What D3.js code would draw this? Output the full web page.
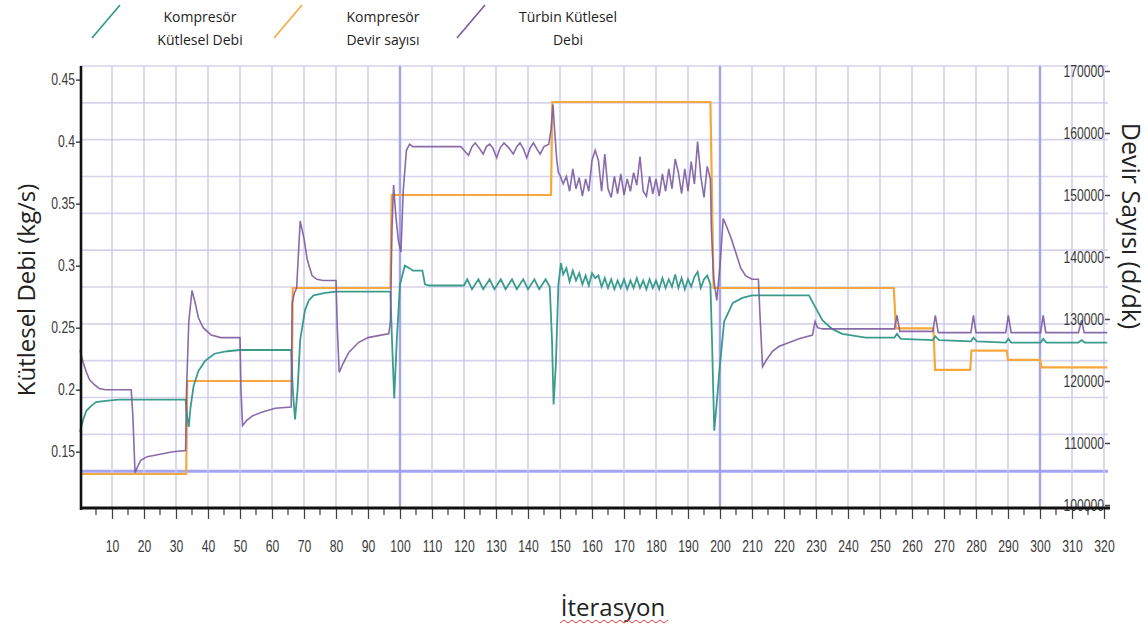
<!DOCTYPE html>
<html>
<head>
<meta charset="utf-8">
<script src="https://cdn.jsdelivr.net/npm/d3@7"></script>
<style>
body { margin: 0; background: #fff; }
.tick text { font-family: "Liberation Sans", Arial, sans-serif; font-size: 16px; fill: #3a3a3a; }
</style>
</head>
<body>
<div id="plot"></div>
<script>
// series: [iteration, value]
const compMassFlow = [
  [0,0.166],[1,0.176],[2,0.183],[3.5,0.187],[5,0.19],[8,0.191],[12,0.192],[33,0.192],[33.5,0.178],[34,0.17],
  [34.5,0.185],[35.5,0.203],[37,0.215],[39,0.223],[42,0.229],[46,0.231],[50,0.232],[66,0.232],[66.5,0.2],[67.2,0.176],
  [68,0.2],[68.8,0.24],[70.3,0.264],[71.5,0.272],[73,0.276],[76.6,0.278],[80,0.279],[97,0.279],[97.5,0.24],[98.2,0.193],
  [99,0.24],[100,0.285],[101.5,0.3],[103,0.298],[104,0.296],[107,0.296],[107.8,0.285],[109,0.284],[120,0.284],
  [121,0.289],[122.5,0.281],[124.5,0.289],[126,0.281],[128,0.289],[129.5,0.281],[131.5,0.289],[133,0.281],[135,0.289],
  [136.5,0.281],[138.5,0.289],[140,0.281],[142,0.289],[143.5,0.281],[145.5,0.289],[146.8,0.283],[147.5,0.24],[148,0.188],
  [148.7,0.22],[149.5,0.285],[150.3,0.302],[151,0.293],[152,0.298],[153,0.287],[154,0.296],[155,0.288],[156,0.294],
  [157,0.285],[158,0.292],[159,0.284],[160,0.294],[161,0.29],[162,0.292],[163,0.283],[164,0.29],[165,0.282],[166,0.289],
  [167,0.281],[168,0.288],[169,0.282],[170,0.289],[171,0.281],[172,0.288],[173,0.282],[174,0.29],[175,0.282],[176,0.288],
  [177,0.281],[178,0.289],[179,0.282],[180,0.288],[181,0.281],[182,0.29],[183,0.282],[184,0.289],[185,0.283],[186,0.293],
  [187,0.282],[188,0.29],[189,0.281],[190,0.289],[191,0.283],[192,0.291],[193,0.295],[194,0.282],[195,0.289],[196,0.292],
  [197,0.285],[197.5,0.24],[198.2,0.167],[199,0.19],[199.8,0.215],[201.3,0.255],[204,0.27],[207,0.274],[210,0.276],
  [227.8,0.276],[229.9,0.266],[232,0.256],[235,0.249],[238.2,0.245],[245.5,0.242],[254.5,0.242],[255.3,0.245],[256.5,0.241],
  [266.5,0.24],[267.3,0.243],[268.5,0.24],[278.4,0.239],[279.2,0.242],[280.3,0.239],[289.3,0.238],[290.1,0.241],[291,0.238],
  [300.2,0.238],[301,0.241],[302,0.238],[312,0.238],[313,0.24],[314,0.238],[321,0.238]
];

const compSpeed = [
  [0,105000],[33.2,105000],[33.5,120000],[66.2,120000],[66.5,135000],[97,135000],[97.4,150000],[147.2,150000],
  [147.6,165000],[197,165000],[198,135000],[254.3,135000],[255,128500],[266.7,128500],[267.2,121800],[278.2,121800],
  [278.6,124900],[289.6,124900],[290,123400],[300,123400],[300.5,122200],[321,122200]
];

const turbMassFlow = [
  [0,0.232],[1,0.222],[2,0.214],[3,0.208],[4.5,0.204],[6,0.201],[8,0.2],[16,0.2],[16.5,0.18],[17.2,0.133],[18,0.138],
  [19,0.143],[21,0.146],[25,0.148],[29,0.15],[33,0.151],[33.3,0.2],[34,0.255],[35,0.28],[36,0.27],[37,0.258],[38.5,0.25],
  [41,0.244],[44,0.242],[50,0.242],[50.3,0.2],[50.8,0.171],[52,0.175],[54,0.179],[57,0.182],[61,0.185],[66,0.186],
  [66.3,0.27],[67,0.278],[67.7,0.282],[68.8,0.336],[70,0.322],[71,0.305],[72.5,0.292],[74,0.289],[76,0.288],[80,0.288],
  [80.4,0.25],[81,0.214],[82,0.22],[84,0.23],[87,0.238],[90,0.242],[94,0.244],[96.5,0.245],[97,0.255],[97.5,0.33],
  [98,0.365],[98.7,0.34],[99.5,0.32],[100.3,0.311],[101,0.36],[102,0.393],[103,0.398],[104,0.396],[119,0.396],[120,0.393],
  [121.4,0.389],[122.5,0.396],[123.5,0.399],[124.7,0.395],[126,0.39],[127,0.396],[128,0.398],[129,0.395],[130.2,0.387],
  [131.3,0.395],[132.5,0.399],[134,0.395],[135.4,0.39],[136.5,0.396],[137.5,0.399],[138.6,0.394],[139.6,0.387],[140.7,0.395],
  [141.7,0.399],[142.8,0.394],[143.8,0.39],[145,0.396],[146.5,0.398],[147.2,0.41],[147.8,0.43],[148.3,0.41],[149,0.385],
  [149.5,0.375],[150,0.373],[151,0.366],[152,0.372],[153,0.36],[154,0.378],[155,0.362],[156,0.371],[157,0.356],[158,0.37],
  [159,0.36],[160,0.385],[161,0.393],[162,0.385],[163,0.36],[164,0.39],[165,0.362],[166,0.355],[167,0.372],[168,0.358],
  [169,0.374],[170,0.357],[171,0.37],[172,0.36],[173,0.375],[174,0.365],[175,0.388],[176,0.36],[177,0.356],[178,0.372],
  [179,0.358],[180,0.37],[181,0.356],[182,0.374],[183,0.36],[184,0.378],[185,0.362],[186,0.386],[187,0.375],[188,0.358],
  [189,0.378],[190,0.36],[191,0.384],[192,0.366],[193,0.4],[194,0.372],[195,0.355],[196,0.38],[197,0.37],[197.3,0.33],
  [198,0.29],[199,0.272],[200,0.3],[201,0.338],[202,0.332],[203.5,0.322],[205,0.31],[206.5,0.298],[208,0.292],[210,0.289],
  [212,0.289],[212.5,0.26],[213.3,0.2185],[214.5,0.224],[216.4,0.231],[218.5,0.235],[220.6,0.237],[224.7,0.241],
  [228.9,0.244],[229.7,0.255],[230.5,0.25],[232,0.249],[254.5,0.249],[255.3,0.26],[256.2,0.247],[266.5,0.247],
  [267.3,0.26],[268.2,0.246],[278.4,0.246],[279.2,0.26],[280,0.246],[289.3,0.246],[290.1,0.26],[291,0.246],[300.2,0.246],
  [301,0.26],[301.8,0.246],[312,0.246],[313,0.256],[313.8,0.246],[321,0.246]
];

const xTicks = d3.range(10, 321, 10);
const xMinorTicks = d3.range(5, 321, 10);
const leftTicks = [0.15, 0.2, 0.25, 0.3, 0.35, 0.4, 0.45];
const rightTicks = [100000, 110000, 120000, 130000, 140000, 150000, 160000, 170000];

const legendItems = [
  {lines: ["Kompresör", "Kütlesel Debi"], color: "#2f9787"},
  {lines: ["Kompresör", "Devir sayısı"], color: "#f6a83c"},
  {lines: ["Türbin Kütlesel", "Debi"], color: "#7b5b9f"}
];

const W = 1148, H = 627;
const plot = {left: 80, right: 1108, top: 66, bottom: 508};

const svg = d3.select("#plot")
    .append("svg")
    .attr("width", W)
    .attr("height", H);

const x = d3.scaleLinear().domain([0, 321.25]).range([plot.left, plot.right]);
const yL = d3.scaleLinear().domain([0.1046, 0.461]).range([plot.bottom, plot.top]);
const yR = d3.scaleLinear().domain([99516, 170806]).range([plot.bottom, plot.top]);

// horizontal grid: 12 equal divisions of the plot height
const gridY = d3.scaleLinear().domain([0, 12]).range([plot.top, plot.bottom]);
svg.append("g")
    .selectAll("line")
    .data(d3.range(12))
    .enter()
    .append("line")
    .attr("x1", plot.left)
    .attr("x2", plot.right)
    .attr("y1", d => gridY(d))
    .attr("y2", d => gridY(d))
    .attr("stroke", d => d === 11 ? "#a4a4f2" : "#d6d4ea")
    .attr("stroke-width", d => d === 11 ? 3 : 1.6);

// vertical grid
svg.append("g")
    .selectAll("line")
    .data(xTicks)
    .enter()
    .append("line")
    .attr("x1", d => x(d))
    .attr("x2", d => x(d))
    .attr("y1", plot.top)
    .attr("y2", plot.bottom)
    .attr("stroke", d => d % 100 === 0 ? "#a3a3f0" : "#cbcaf6")
    .attr("stroke-width", d => d % 100 === 0 ? 2.4 : 1.5);

// series
const lineL = d3.line().x(d => x(d[0])).y(d => yL(d[1]));
const lineR = d3.line().x(d => x(d[0])).y(d => yR(d[1]));

svg.append("path")
    .datum(compSpeed)
    .attr("fill", "none")
    .attr("stroke", "#f6a83c")
    .attr("stroke-width", 2.2)
    .attr("d", lineR);

svg.append("path")
    .datum(compMassFlow)
    .attr("fill", "none")
    .attr("stroke", "#2f9787")
    .attr("stroke-width", 1.8)
    .attr("opacity", 0.95)
    .attr("d", lineL);

svg.append("path")
    .datum(turbMassFlow)
    .attr("fill", "none")
    .attr("stroke", "#7b5b9f")
    .attr("stroke-width", 1.6)
    .attr("opacity", 0.9)
    .attr("d", lineL);

// axes (narrow tick labels, squeezed horizontally)
function narrowLabels(g) {
    g.selectAll(".tick text")
        .attr("transform", "scale(0.76,1)")
        .attr("x", function() { return +d3.select(this).attr("x") / 0.76; });
}

const leftAxis = svg.append("g")
    .attr("transform", "translate(" + (plot.left + 1) + ",0)")
    .call(d3.axisLeft(yL).tickValues(leftTicks).tickFormat(d => String(d)).tickSize(5).tickPadding(1));
leftAxis.select(".domain").remove();
leftAxis.selectAll(".tick line").attr("stroke", "#444").attr("stroke-width", 1.5);
narrowLabels(leftAxis);

const rightAxis = svg.append("g")
    .attr("transform", "translate(" + (plot.right + 2) + ",0)")
    .call(d3.axisLeft(yR).tickValues(rightTicks).tickFormat(d => String(d)).tickSize(5).tickPadding(1));
rightAxis.select(".domain").remove();
rightAxis.selectAll(".tick line").attr("stroke", "#444").attr("stroke-width", 1.5);
narrowLabels(rightAxis);

const bottomAxis = svg.append("g")
    .attr("transform", "translate(0," + plot.bottom + ")")
    .call(d3.axisBottom(x).tickValues(xTicks).tickSize(11).tickPadding(22));
bottomAxis.select(".domain").remove();
bottomAxis.selectAll(".tick line").attr("stroke", "#444").attr("stroke-width", 1.3);
bottomAxis.selectAll(".tick text").attr("transform", "scale(0.76,1)");

svg.append("g")
    .selectAll("line")
    .data(xMinorTicks)
    .enter()
    .append("line")
    .attr("x1", d => x(d))
    .attr("x2", d => x(d))
    .attr("y1", plot.bottom)
    .attr("y2", plot.bottom + 7)
    .attr("stroke", "#444")
    .attr("stroke-width", 1.3);

// axis frame lines
svg.append("line")
    .attr("x1", plot.left + 1).attr("x2", plot.left + 1)
    .attr("y1", plot.top).attr("y2", plot.bottom + 2)
    .attr("stroke", "#111").attr("stroke-width", 2.6);
svg.append("line")
    .attr("x1", plot.left).attr("x2", plot.right + 2)
    .attr("y1", plot.bottom).attr("y2", plot.bottom)
    .attr("stroke", "#111").attr("stroke-width", 2.8);

// axis titles
svg.append("text")
    .attr("transform", "translate(35,290) rotate(-90)")
    .attr("text-anchor", "middle")
    .attr("font-family", "Open Sans, sans-serif")
    .attr("font-size", 24)
    .attr("fill", "#222")
    .text("Kütlesel Debi (kg/s)");

svg.append("text")
    .attr("transform", "translate(1122,226) rotate(90)")
    .attr("text-anchor", "middle")
    .attr("font-family", "Open Sans, sans-serif")
    .attr("font-size", 25)
    .attr("fill", "#222")
    .text("Devir Sayısı (d/dk)");

svg.append("text")
    .attr("x", 613)
    .attr("y", 616)
    .attr("text-anchor", "middle")
    .attr("font-family", "Open Sans, sans-serif")
    .attr("font-size", 24)
    .attr("fill", "#222")
    .text("İterasyon");

// spell-check squiggle under the title
const squiggle = d3.range(0, 28).map(i => [560 + i * 4, i % 2 ? 620 : 623]);
svg.append("path")
    .attr("d", d3.line()(squiggle))
    .attr("fill", "none")
    .attr("stroke", "#e04040")
    .attr("stroke-width", 1);

// legend
const legendX = [92, 274, 457];
const legendText = [200, 383, 568];
const legend = svg.append("g")
    .selectAll("g")
    .data(legendItems)
    .enter()
    .append("g");

legend.append("line")
    .attr("x1", (d, i) => legendX[i])
    .attr("y1", 38)
    .attr("x2", (d, i) => legendX[i] + 28)
    .attr("y2", 5)
    .attr("stroke", d => d.color)
    .attr("stroke-width", 1.6);

legend.each(function(d, i) {
    d3.select(this).selectAll("text")
        .data(d.lines)
        .enter()
        .append("text")
        .attr("x", legendText[i])
        .attr("y", (t, j) => 22 + j * 23)
        .attr("text-anchor", "middle")
        .attr("font-family", "Open Sans, sans-serif")
        .attr("font-size", 14)
        .attr("fill", "#222")
        .text(t => t);
});
</script>
</body>
</html>
